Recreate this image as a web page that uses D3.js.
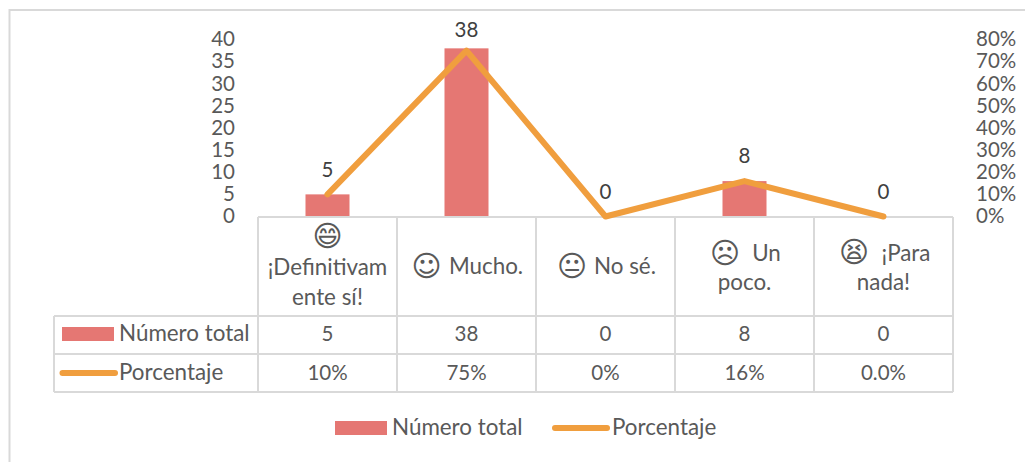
<!DOCTYPE html>
<html><head><meta charset="utf-8">
<script src="https://cdn.jsdelivr.net/npm/d3@7"></script>
<style>
html,body{margin:0;padding:0;background:#fff}
svg{display:block}
text{font-family:Lato,"DejaVu Sans",sans-serif;fill:#595959}
.ax path,.ax line{display:none}
</style></head><body>
<svg id="c" width="1025" height="462"></svg>
<script>
const categoryEmoji=["😄","\u263A\uFE0E","😐","\u2639\uFE0E","😫"];
const categoryLines=[["¡Definitivam","ente sí!"],["Mucho."],["No sé."],["Un","poco."],["¡Para","nada!"]];
const numeroTotal=[5,38,0,8,0];
const porcentaje=[0.10,0.75,0,0.16,0];
const porcentajeLabels=["10%","75%","0%","16%","0.0%"];
const seriesNames=["Número total","Porcentaje"];
const leftTicks=[0,5,10,15,20,25,30,35,40];
const rightTicks=[0,.1,.2,.3,.4,.5,.6,.7,.8];
const barColor="#E57773",lineColor="#F09E3E",gridColor="#D9D9D9";

const svg=d3.select("#c");
const x=d3.scaleBand().domain(d3.range(5)).range([258,953]);
const yL=d3.scaleLinear().domain([0,40]).range([216.5,39.5]);
const yR=d3.scaleLinear().domain([0,.8]).range([216.5,39.5]);
const fs=22.4, fsNum=20.5;

svg.append("path").attr("d","M9.5,462V10H1025").attr("fill","none").attr("stroke",gridColor).attr("stroke-width",2);

const axisShift="translate(0,-0.5)";
const axL=svg.append("g").attr("class","ax").attr("transform","translate(235,-0.5)")
  .call(d3.axisLeft(yL).tickValues(leftTicks).tickSize(0).tickPadding(0));
const axR=svg.append("g").attr("class","ax").attr("transform","translate(976,-0.5)")
  .call(d3.axisRight(yR).tickValues(rightTicks).tickFormat(d3.format(".0%")).tickSize(0).tickPadding(0));
[axL,axR].forEach(a=>a.selectAll("text").attr("font-size",fsNum).style("font-family","Lato").style("fill","#595959").attr("dy","0.33em"));

const bw=44;
const cx=i=>x(i)+x.bandwidth()/2;
svg.append("g").selectAll("rect").data(numeroTotal).join("rect")
  .attr("x",(d,i)=>cx(i)-bw/2).attr("width",bw)
  .attr("y",d=>yL(d)).attr("height",d=>yL(0)-yL(d)).attr("fill",barColor);

const rows=[217,316,354,392];
const left=54;
const g=svg.append("g").attr("stroke",gridColor).attr("stroke-width",2).attr("fill","none");
g.append("line").attr("x1",258).attr("x2",953).attr("y1",rows[0]).attr("y2",rows[0]);
rows.slice(1).forEach(y=>g.append("line").attr("x1",left).attr("x2",953).attr("y1",y).attr("y2",y));
g.append("line").attr("x1",left).attr("x2",left).attr("y1",rows[1]).attr("y2",rows[3]);
d3.range(6).forEach(i=>{
  const X=i<5?x(i):953;
  g.append("line").attr("x1",X).attr("x2",X).attr("y1",rows[0]).attr("y2",rows[3]);
});

svg.append("path").datum(porcentaje)
  .attr("d",d3.line().x((d,i)=>cx(i)).y(d=>yR(d)))
  .attr("fill","none").attr("stroke",lineColor).attr("stroke-width",6)
  .attr("stroke-linecap","round").attr("stroke-linejoin","round");

const labelOffsets=[17,11.5,17.5,18,17.5];
svg.append("g").selectAll("text").data(numeroTotal).join("text")
  .attr("x",(d,i)=>cx(i)).attr("y",(d,i)=>yL(d)-labelOffsets[i]).attr("text-anchor","middle")
  .attr("font-size",fsNum).style("fill","#404040").text(d=>d);

const cellLayouts=[
  {e:[0,237],l:[[0,268],[0,298]]},
  {e:[-40,267],l:[[19.5,267]]},
  {e:[-33.5,267],l:[[19.5,267]]},
  {e:[-19.5,254],l:[[22,254],[0,283]]},
  {e:[-29.5,253],l:[[22.5,254],[0,283]]}
];
const emojiSize=29;
categoryLines.forEach((lines,i)=>{
  const L=cellLayouts[i];
  svg.append("text").attr("x",cx(i)+L.e[0]).attr("y",L.e[1]+9)
    .attr("text-anchor","middle").attr("font-size",emojiSize).style("font-family","DejaVu Sans").text(categoryEmoji[i]);
  lines.forEach((t,j)=>svg.append("text").attr("x",cx(i)+L.l[j][0]).attr("y",L.l[j][1]+7)
    .attr("text-anchor","middle").attr("font-size",fs).text(t));
});

const rowMid=[334,373];
[numeroTotal.map(String),porcentajeLabels].forEach((vals,r)=>{
  vals.forEach((v,i)=>svg.append("text").attr("x",cx(i)).attr("y",rowMid[r]+7)
    .attr("text-anchor","middle").attr("font-size",fsNum).text(v));
});

function key(kind,x0,x1,y){
  if(kind===0) svg.append("rect").attr("x",x0).attr("y",y-7).attr("width",x1-x0).attr("height",14).attr("fill",barColor);
  else svg.append("line").attr("x1",x0).attr("x2",x1).attr("y1",y).attr("y2",y)
    .attr("stroke",lineColor).attr("stroke-width",6).attr("stroke-linecap","round");
}
key(0,62,114,334);
key(1,62.5,115,373);
svg.append("text").attr("x",119).attr("y",341).attr("font-size",fs).text(seriesNames[0]);
svg.append("text").attr("x",119).attr("y",380).attr("font-size",fs).text(seriesNames[1]);

key(0,335,387,428);
key(1,555,607,428);
svg.append("text").attr("x",392).attr("y",435).attr("font-size",fs).text(seriesNames[0]);
svg.append("text").attr("x",612).attr("y",435).attr("font-size",fs).text(seriesNames[1]);
</script></body></html>
